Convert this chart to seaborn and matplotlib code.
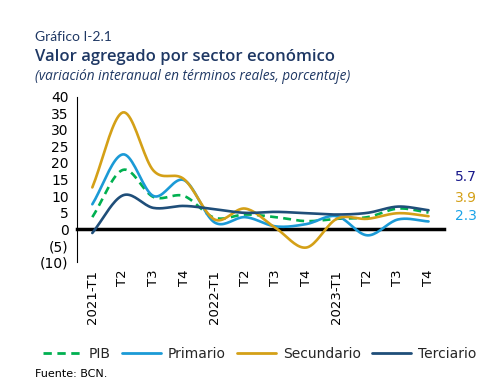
import numpy as np
import pandas as pd
import matplotlib
matplotlib.use("Agg")
import matplotlib.pyplot as plt
import matplotlib.transforms as mtransforms
from matplotlib.lines import Line2D
import seaborn as sns

categories = ["2021-T1", "T2", "T3", "T4", "2022-T1", "T2", "T3", "T4",
              "2023-T1", "T2", "T3", "T4"]
pib = [3.6, 17.9, 9.7, 10.0, 3.4, 4.4, 3.6, 2.4, 3.1, 3.6, 6.2, 5.0]
primario = [7.5, 22.6, 10.0, 14.8, 2.0, 3.6, 0.8, 1.5, 3.9, -1.9, 2.9, 2.3]
secundario = [12.6, 35.3, 17.7, 15.1, 2.9, 6.2, 0.3, -5.6, 3.1, 3.1, 4.8, 3.9]
terciario = [-1.2, 10.2, 6.4, 7.0, 6.0, 4.9, 5.2, 4.8, 4.4, 4.9, 6.8, 5.7]
yticks = [-10, -5, 0, 5, 10, 15, 20, 25, 30, 35, 40]
ytick_labels = ["(10)", "(5)", "0", "5", "10", "15", "20", "25", "30", "35", "40"]

C_PIB = "#00B050"
C_PRI = "#1B9AD6"
C_SEC = "#D4A017"
C_TER = "#1F4E79"
C_TITLE = "#1F3864"

sns.set_theme(style="white")
plt.rcParams["font.family"] = ["DejaVu Sans"]


def smooth(vals, n=20):
    # Catmull-Rom rendering of the line (display smoothing only)
    p = np.asarray(vals, dtype=float)
    x = np.arange(len(p), dtype=float)
    pp = np.concatenate([[2 * p[0] - p[1]], p, [2 * p[-1] - p[-2]]])
    xs, ys = [], []
    for i in range(len(p) - 1):
        p0, p1, p2, p3 = pp[i], pp[i + 1], pp[i + 2], pp[i + 3]
        t = np.linspace(0, 1, n, endpoint=False)
        y = 0.5 * ((2 * p1) + (-p0 + p2) * t + (2 * p0 - 5 * p1 + 4 * p2 - p3) * t ** 2
                   + (-p0 + 3 * p1 - 3 * p2 + p3) * t ** 3)
        xs.append(x[i] + t)
        ys.append(y)
    xs.append([x[-1]])
    ys.append([p[-1]])
    return np.concatenate(xs), np.concatenate(ys)


fig = plt.figure(figsize=(4.97, 3.86), dpi=100)
ax = fig.add_axes([0.155, 0.321, 0.738, 0.428])

series = [("PIB", pib, C_PIB, (0, (3, 2))),
          ("Primario", primario, C_PRI, "-"),
          ("Secundario", secundario, C_SEC, "-"),
          ("Terciario", terciario, C_TER, "-")]
for name, vals, col, ls in series:
    xs, ys = smooth(vals)
    df = pd.DataFrame({"x": xs, "y": ys})
    sns.lineplot(data=df, x="x", y="y", ax=ax, color=col, linewidth=1.9,
                 linestyle=ls, sort=False, estimator=None)

ax.set_xlim(-0.5, len(categories) - 0.5)
ax.set_ylim(-10, 40)
ax.set_xlabel("")
ax.set_ylabel("")

for s in ["top", "right"]:
    ax.spines[s].set_visible(False)
ax.spines["left"].set_color("black")
ax.spines["left"].set_linewidth(0.8)
ax.spines["bottom"].set_position(("data", 0))
ax.spines["bottom"].set_color("black")
ax.spines["bottom"].set_linewidth(2.5)
ax.spines["bottom"].set_zorder(1)

ax.set_yticks(yticks)
ax.set_yticklabels(ytick_labels, fontsize=10, color="black")
ax.tick_params(axis="y", direction="out", length=4, width=0.8, color="black", pad=2)
ax.set_xticks(np.arange(len(categories) + 1) - 0.5)
ax.set_xticklabels([])
ax.tick_params(axis="x", direction="out", length=3, width=2.5, color="black")

trans = mtransforms.blended_transform_factory(ax.transData, ax.transAxes)
for i, lab in enumerate(categories):
    ax.text(i, -0.045, lab, transform=trans, rotation=90, ha="center", va="top",
            fontsize=9.5, color="black")

# end labels
ytr = ax.get_yaxis_transform()
ax.text(1.03, 5.7 + 10.2, "5.7", transform=ytr,
        color="#1A1A8C", fontsize=10, ha="left", va="center")
ax.text(1.03, 3.9 + 5.4, "3.9", transform=ytr,
        color=C_SEC, fontsize=10, ha="left", va="center")
ax.text(1.03, 2.3 + 1.6, "2.3", transform=ytr,
        color="#1AA3E8", fontsize=10, ha="left", va="center")

# titles
fig.text(35 / 497, 1 - 37 / 386, "Gráfico I-2.1", fontsize=10, color=C_TITLE,
         ha="left", va="center", family=["Lato", "DejaVu Sans"])
fig.text(35 / 497, 1 - 57 / 386, "Valor agregado por sector económico", fontsize=12,
         color=C_TITLE, ha="left", va="center", fontweight="semibold",
         family=["Open Sans", "DejaVu Sans"])
fig.text(35 / 497, 1 - 76 / 386, "(variación interanual en términos reales, porcentaje)",
         fontsize=9.8, color=C_TITLE, ha="left", va="center", style="italic",
         family=["Open Sans", "DejaVu Sans"])

handles = [Line2D([], [], color=c, lw=2, linestyle=ls) for _, _, c, ls in series]
fig.legend(handles, [s[0] for s in series], loc="center", ncol=4,
           bbox_to_anchor=(0.522, 1 - 354 / 386), frameon=False, fontsize=10,
           handlelength=2.8, handletextpad=0.5, columnspacing=0.8)

fig.text(35 / 497, 1 - 374 / 386, "Fuente: BCN.", fontsize=8, color="black",
         ha="left", va="center")

fig.savefig("out.png", dpi=100)
